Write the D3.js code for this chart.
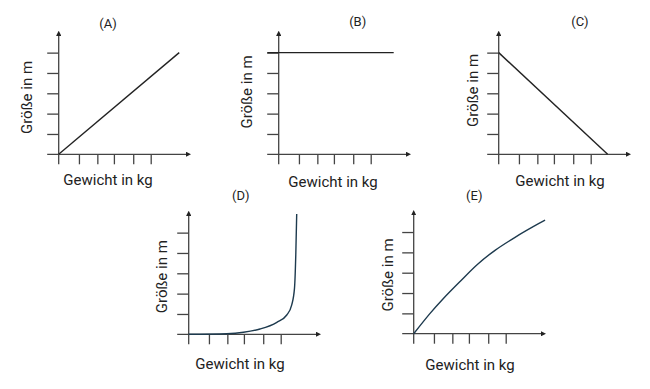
<!DOCTYPE html>
<html>
<head>
<meta charset="utf-8">
<script src="https://cdn.jsdelivr.net/npm/d3@7"></script>
<style>
  body { margin: 0; background: #fff; }
  text { font-family: Roboto, "Noto Sans", sans-serif; fill: #222; }
</style>
</head>
<body>
<div id="chart"></div>
<script>
// values in axis units (x: one tick step ~ 1, y: one tick step = 1)
var titles = ["(A)", "(B)", "(C)", "(D)", "(E)"];
var xLabel = "Gewicht in kg";
var yLabel = "Größe in m";
var xTickVals = [1.1, 2.1, 3.0, 4.05, 5.0];
var yTickVals = [1, 2, 3, 4, 5];

var curveA = [[0, 0], [6.55, 5]];
var curveB = [[-0.62, 5], [6.25, 5]];
var curveC = [[0, 5], [5.92, 0]];
var curveD = [[0, 0], [2.07, 0.03], [2.98, 0.1], [3.88, 0.26], [4.79, 0.59], [5.33, 0.95],
              [5.6, 1.45], [5.75, 2.27], [5.82, 3.91], [5.87, 5.92]];
var curveE = [[0, 0], [0.89, 1.0], [1.59, 1.71], [2.52, 2.57], [3.49, 3.43], [4.42, 4.1],
              [5.51, 4.74], [6.59, 5.31], [7.14, 5.58]];

var WIDTH = 650, HEIGHT = 389;

// layout of the five small panels
var panels = [
    {data: curveA, color: "#222", curve: d3.curveLinear, origin: [58.7, 154.3], title: [108, 28], xl: [108, 185], yl: [32, 97.5]},
    {data: curveB, color: "#222", curve: d3.curveLinear, origin: [278.7, 154.3], title: [357.7, 26], xl: [333, 187], yl: [252, 92]},
    {data: curveC, color: "#222", curve: d3.curveLinear, origin: [498.7, 154.3], title: [580, 26], xl: [560, 185.5], yl: [478, 90.5]},
    {data: curveD, color: "#1d3a4e", curve: d3.curveMonotoneX, origin: [188.7, 334.3], title: [240.7, 199.5], xl: [240, 369], yl: [167, 276.7]},
    {data: curveE, color: "#1d3a4e", curve: d3.curveCatmullRom, origin: [413.7, 333.7], title: [474.3, 200], xl: [470, 370], yl: [393, 275]}
];

var svg = d3.select("#chart").append("svg")
    .attr("width", WIDTH)
    .attr("height", HEIGHT);

svg.append("defs").append("marker")
    .attr("id", "arrow")
    .attr("viewBox", "0 0 10 10")
    .attr("refX", 5).attr("refY", 5)
    .attr("markerWidth", 4).attr("markerHeight", 4)
    .attr("orient", "auto")
    .append("path")
    .attr("d", "M0,0L10,5L0,10z")
    .attr("fill", "#222");

var x = d3.scaleLinear().domain([0, 7]).range([0, 128.8]);
var y = d3.scaleLinear().domain([0, 6]).range([0, -122]);

panels.forEach(function (p, i) {
    var g = svg.append("g")
        .attr("transform", "translate(" + p.origin[0] + "," + p.origin[1] + ")");

    // ticks
    var yAxis = d3.axisLeft(y).tickValues(yTickVals).tickSize(11.5).tickFormat("");
    var xAxis = d3.axisBottom(x).tickValues(xTickVals).tickSize(10).tickFormat("");

    g.append("g").call(yAxis).call(function (s) {
        s.select(".domain").remove();
        s.selectAll("line").attr("stroke", "#444").attr("stroke-width", 1.3);
    });
    g.append("g").call(xAxis).call(function (s) {
        s.select(".domain").remove();
        s.selectAll("line").attr("stroke", "#444").attr("stroke-width", 1.3);
    });

    // axis lines with arrows
    g.append("line")
        .attr("x1", 0).attr("y1", 10)
        .attr("x2", 0).attr("y2", y(6) + 1)
        .attr("stroke", "#444").attr("stroke-width", 1.3)
        .attr("marker-end", "url(#arrow)");
    g.append("line")
        .attr("x1", -11.5).attr("y1", 0)
        .attr("x2", x(7) + 1).attr("y2", 0)
        .attr("stroke", "#444").attr("stroke-width", 1.3)
        .attr("marker-end", "url(#arrow)");

    var line = d3.line()
        .x(function (d) { return x(d[0]); })
        .y(function (d) { return y(d[1]); })
        .curve(p.curve);

    g.append("path")
        .datum(p.data)
        .attr("d", line)
        .attr("fill", "none")
        .attr("stroke", p.color)
        .attr("stroke-width", 1.4);

    svg.append("text")
        .attr("x", p.title[0]).attr("y", p.title[1])
        .attr("text-anchor", "middle")
        .style("font-size", "13px")
        .text(titles[i]);

    svg.append("text")
        .attr("x", p.xl[0]).attr("y", p.xl[1])
        .attr("text-anchor", "middle")
        .style("font-size", "15px")
        .text(xLabel);

    svg.append("text")
        .attr("transform", "translate(" + p.yl[0] + "," + p.yl[1] + ")rotate(-90)")
        .attr("text-anchor", "middle")
        .style("font-size", "15px")
        .text(yLabel);
});
</script>
</body>
</html>
